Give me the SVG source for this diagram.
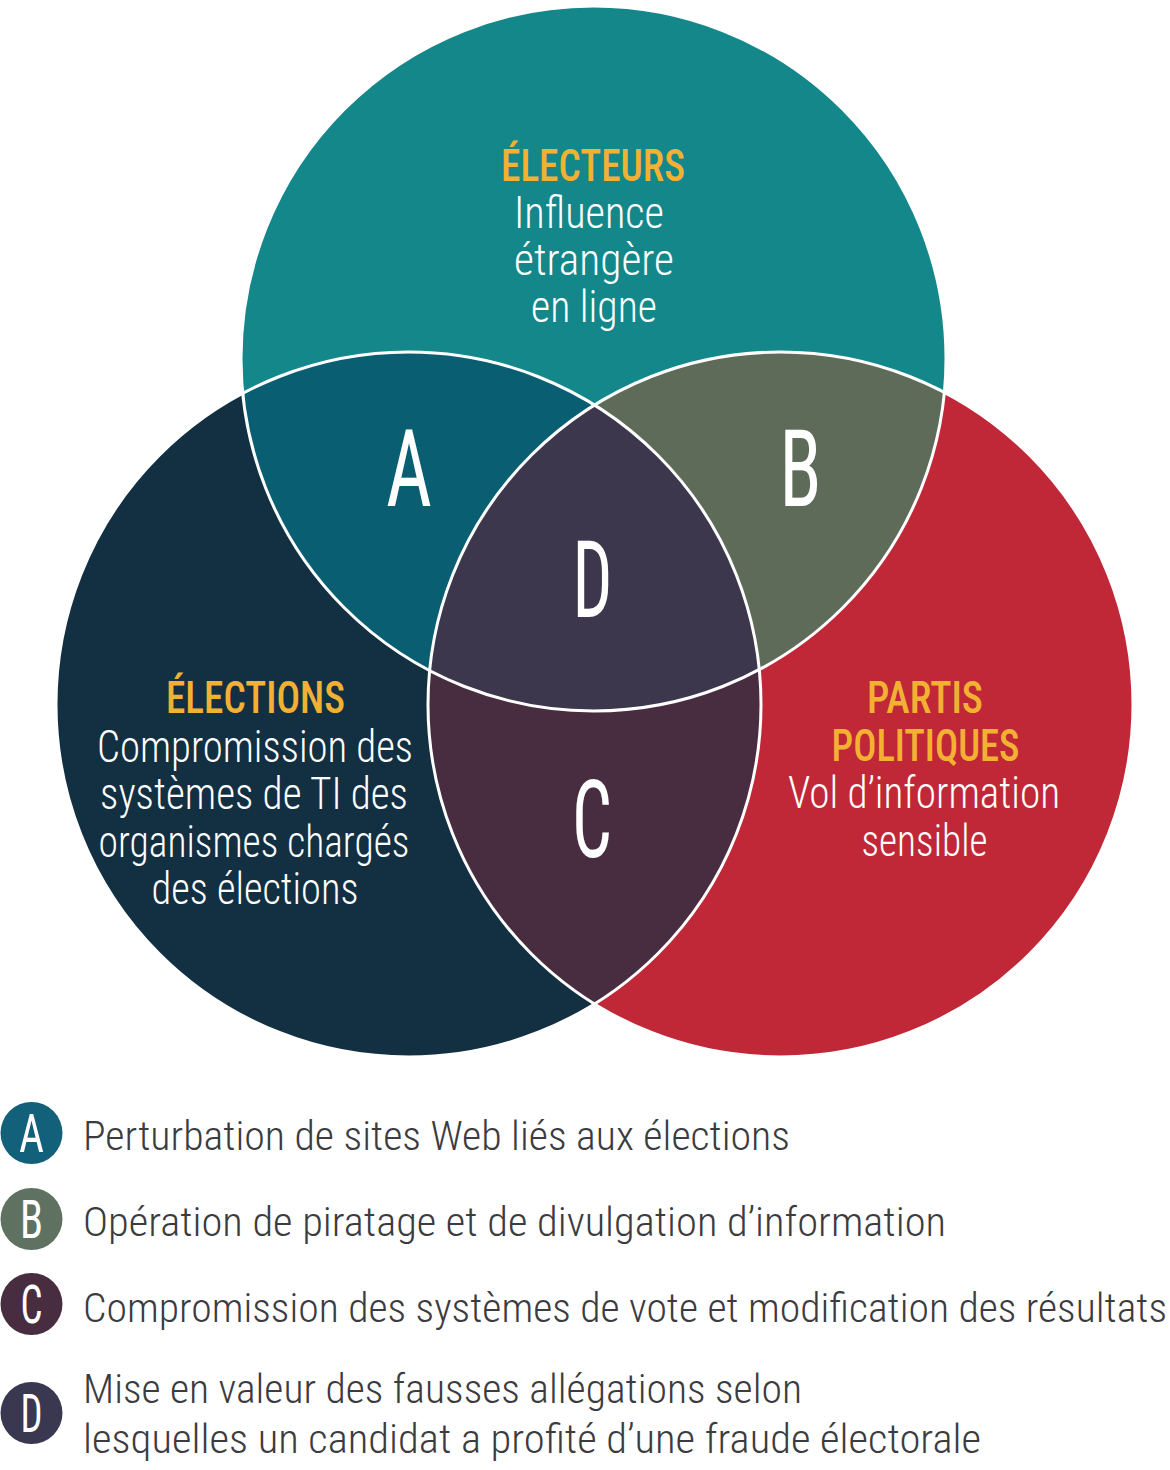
<svg xmlns="http://www.w3.org/2000/svg" width="1170" height="1470" viewBox="0 0 1170 1470">
  <style>
    .t { font-family: "Roboto Condensed", "DejaVu Sans Condensed", "Liberation Sans Narrow", Roboto, "Liberation Sans", sans-serif; font-stretch: condensed; }
    .title { fill: #f3b133; font-size: 44px; font-weight: 500; text-anchor: middle; }
    .body { fill: #ffffff; font-size: 44px; font-weight: 300; text-anchor: middle; }
    .big { fill: #ffffff; font-size: 107px; font-weight: 400; text-anchor: middle; }
    .leg { fill: #3b3b40; font-size: 40px; font-weight: 300; }
    .legl { fill: #ffffff; font-size: 54px; font-weight: 400; text-anchor: middle; }
    .outline { fill: none; stroke: #ffffff; stroke-width: 3; }
  </style>
  <defs>
    <circle id="cTop" cx="593.5" cy="358.5" r="352.5"/>
    <circle id="cLeft" cx="408.5" cy="704.5" r="352.5"/>
    <circle id="cRight" cx="780.5" cy="704.5" r="352.5"/>
    <clipPath id="clipTop"><use href="#cTop"/></clipPath>
    <clipPath id="clipLeft"><use href="#cLeft"/></clipPath>
    <clipPath id="clipRight"><use href="#cRight"/></clipPath>
  </defs>

  <g id="node-electeurs">
    <use href="#cTop" fill="#13878a"/>
  </g>
  <g id="node-elections">
    <use href="#cLeft" fill="#132f42"/>
  </g>
  <g id="node-partis">
    <use href="#cRight" fill="#c02838"/>
  </g>
  <g id="region-A">
    <use href="#cLeft" fill="#095e72" clip-path="url(#clipTop)"/>
  </g>
  <g id="region-B">
    <use href="#cRight" fill="#5e6b59" clip-path="url(#clipTop)"/>
  </g>
  <g id="region-C">
    <use href="#cRight" fill="#472d3f" clip-path="url(#clipLeft)"/>
  </g>
  <g id="region-D" clip-path="url(#clipLeft)">
    <use href="#cRight" fill="#3c374c" clip-path="url(#clipTop)"/>
  </g>
  <g id="outlines">
    <use href="#cTop" class="outline"/>
    <use href="#cLeft" class="outline"/>
    <use href="#cRight" class="outline"/>
  </g>

  <g id="text-electeurs" class="t">
    <text class="title" x="593" y="181" textLength="184" lengthAdjust="spacingAndGlyphs">ÉLECTEURS</text>
    <text class="body" x="589" y="228" textLength="150" lengthAdjust="spacingAndGlyphs">Influence</text>
    <text class="body" x="594" y="275" textLength="160" lengthAdjust="spacingAndGlyphs">étrangère</text>
    <text class="body" x="594" y="322" textLength="126" lengthAdjust="spacingAndGlyphs">en ligne</text>
  </g>
  <g id="text-elections" class="t">
    <text class="title" x="255.5" y="713" textLength="179" lengthAdjust="spacingAndGlyphs">ÉLECTIONS</text>
    <text class="body" x="255" y="762" textLength="316" lengthAdjust="spacingAndGlyphs">Compromission des</text>
    <text class="body" x="254" y="809" textLength="308" lengthAdjust="spacingAndGlyphs">systèmes de TI des</text>
    <text class="body" x="254" y="857" textLength="311" lengthAdjust="spacingAndGlyphs">organismes chargés</text>
    <text class="body" x="255" y="904" textLength="207" lengthAdjust="spacingAndGlyphs">des élections</text>
  </g>
  <g id="text-partis" class="t">
    <text class="title" x="925" y="713" textLength="116" lengthAdjust="spacingAndGlyphs">PARTIS</text>
    <text class="title" x="925.5" y="761" textLength="188" lengthAdjust="spacingAndGlyphs">POLITIQUES</text>
    <text class="body" x="924" y="808" textLength="272" lengthAdjust="spacingAndGlyphs">Vol d’information</text>
    <text class="body" x="924.5" y="856" textLength="126" lengthAdjust="spacingAndGlyphs">sensible</text>
  </g>
  <g id="labels-regions" class="t">
    <text class="big" x="409" y="506" textLength="46" lengthAdjust="spacingAndGlyphs">A</text>
    <text class="big" x="800.5" y="506" textLength="42" lengthAdjust="spacingAndGlyphs">B</text>
    <text class="big" x="592.5" y="617" textLength="40" lengthAdjust="spacingAndGlyphs">D</text>
    <text class="big" x="592" y="857" textLength="40" lengthAdjust="spacingAndGlyphs">C</text>
  </g>

  <g id="legend-A" class="t">
    <circle cx="31.5" cy="1133" r="31" fill="#12607a"/>
    <text class="legl" x="31.5" y="1152" textLength="25" lengthAdjust="spacingAndGlyphs">A</text>
    <text class="leg" x="83" y="1150" textLength="707" lengthAdjust="spacingAndGlyphs">Perturbation de sites Web liés aux élections</text>
  </g>
  <g id="legend-B" class="t">
    <circle cx="31.5" cy="1219" r="31" fill="#5f7261"/>
    <text class="legl" x="31.5" y="1238" textLength="23" lengthAdjust="spacingAndGlyphs">B</text>
    <text class="leg" x="83" y="1236" textLength="863" lengthAdjust="spacingAndGlyphs">Opération de piratage et de divulgation d’information</text>
  </g>
  <g id="legend-C" class="t">
    <circle cx="31.5" cy="1304" r="31" fill="#482c3f"/>
    <text class="legl" x="31.5" y="1323" textLength="22" lengthAdjust="spacingAndGlyphs">C</text>
    <text class="leg" x="83" y="1322" textLength="1084" lengthAdjust="spacingAndGlyphs">Compromission des systèmes de vote et modification des résultats</text>
  </g>
  <g id="legend-D" class="t">
    <circle cx="31.5" cy="1413" r="31" fill="#3a3850"/>
    <text class="legl" x="31.5" y="1432" textLength="22" lengthAdjust="spacingAndGlyphs">D</text>
    <text class="leg" x="83" y="1403" textLength="719" lengthAdjust="spacingAndGlyphs">Mise en valeur des fausses allégations selon</text>
    <text class="leg" x="83" y="1453" textLength="898" lengthAdjust="spacingAndGlyphs">lesquelles un candidat a profité d’une fraude électorale</text>
  </g>
</svg>
